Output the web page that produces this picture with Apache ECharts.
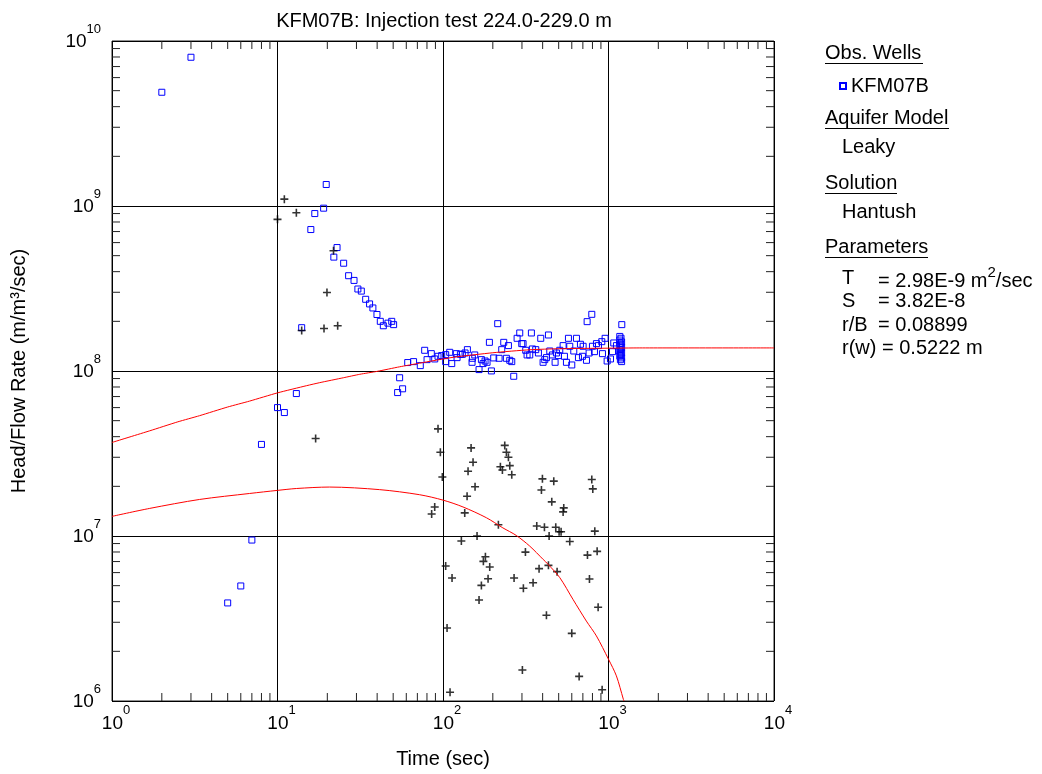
<!DOCTYPE html>
<html>
<head>
<meta charset="utf-8">
<title>KFM07B: Injection test 224.0-229.0 m</title>
<script src="https://cdn.jsdelivr.net/npm/echarts@6/dist/echarts.min.js"></script>
<style>
  html, body { margin: 0; padding: 0; background: #fff; }
  #chart { width: 1042px; height: 774px; }
</style>
</head>
<body>
<div id="chart"></div>
<script>
// Observed head/flow rate, [time (sec), head/flow rate (m/m³/sec)]
const obsPoints = [
  [2, 4.89e9], [3, 7.97e9], [5, 3.93e6], [6, 4.98e6], [7, 9.45e6], [8, 3.59e7],
  [10, 6.0e7], [11, 5.6e7], [13, 7.3e7], [14, 1.83e8], [15.9, 7.2e8], [16.8, 9.0e8],
  [19, 9.7e8], [19.7, 1.35e9], [21.9, 4.9e8], [22.9, 5.6e8], [25.1, 4.5e8], [26.9, 3.78e8],
  [29, 3.54e8], [30.6, 3.14e8], [32.1, 3.05e8], [34.1, 2.72e8], [36, 2.55e8], [37.7, 2.41e8],
  [39.9, 2.2e8], [41.8, 2.0e8], [43.6, 1.88e8], [46.5, 1.95e8], [49, 2.0e8], [50.3, 1.91e8],
  [53.2, 7.4e7], [54.7, 9.1e7], [57, 7.8e7], [61.2, 1.125e8], [66.4, 1.14e8],
  [72.9, 1.078e8], [77.5, 1.335e8], [80.1, 1.172e8], [85.0, 1.274e8], [89.1, 1.183e8],
  [93.3, 1.228e8], [98.2, 1.24e8], [103.8, 1.257e8], [103.8, 1.14e8], [109.8, 1.298e8],
  [112.9, 1.109e8], [120.4, 1.274e8], [121.6, 1.205e8], [127.4, 1.262e8], [130.9, 1.262e8],
  [135.9, 1.286e8], [140.4, 1.347e8], [149.8, 1.129e8], [150.5, 1.194e8], [155.5, 1.251e8],
  [165.1, 1.02e8], [170.6, 1.172e8], [174.6, 1.109e8], [179.5, 1.15e8], [184.6, 1.129e8],
  [190.7, 1.492e8], [196.1, 1.001e8], [202.5, 1.2e8], [214.1, 1.936e8], [218.2, 1.194e8],
  [226.4, 1.347e8], [232.8, 1.492e8], [241.6, 1.194e8], [248.5, 1.425e8], [253.2, 1.161e8],
  [260.3, 1.14e8], [267.6, 9.29e7], [280.4, 1.578e8], [290.9, 1.7e8], [299.1, 1.465e8],
  [304.7, 1.465e8], [316.2, 1.335e8], [322.1, 1.251e8], [334.3, 1.251e8], [342.1, 1.7e8],
  [346.9, 1.36e8], [363.4, 1.347e8], [377.2, 1.286e8], [389.6, 1.578e8], [402.5, 1.129e8],
  [412.0, 1.172e8], [421.7, 1.205e8], [433.6, 1.653e8], [441.7, 1.322e8], [458.4, 1.251e8],
  [475.7, 1.129e8], [484.6, 1.286e8], [498.3, 1.24e8], [507.6, 1.335e8], [531.8, 1.425e8],
  [541.8, 1.228e8], [557.0, 1.129e8], [572.8, 1.578e8], [583.4, 1.412e8], [599.9, 1.088e8],
  [616.9, 1.322e8], [640.3, 1.578e8], [658.3, 1.205e8], [676.9, 1.452e8], [696.0, 1.228e8],
  [702.5, 1.412e8], [735.9, 1.161e8], [742.8, 1.991e8], [763.7, 1.286e8], [792.6, 2.205e8],
  [799.9, 1.412e8], [822.5, 1.31e8], [845.7, 1.465e8], [869.6, 1.425e8], [910.9, 1.506e8],
  [919.4, 1.274e8], [954.1, 1.578e8], [981.1, 1.15e8], [1028, 1.183e8], [1057, 1.31e8],
  [1076, 1.479e8], [1117, 1.425e8],
  [1170, 1.62e8], [1190, 1.58e8], [1170, 1.54e8], [1200, 1.5e8], [1180, 1.46e8],
  [1170, 1.42e8], [1200, 1.39e8], [1180, 1.35e8], [1170, 1.32e8], [1200, 1.29e8],
  [1180, 1.26e8], [1170, 1.23e8], [1200, 1.2e8], [1180, 1.17e8], [1200, 1.14e8], [1203, 1.91e8]
];

// Derivative of the observed data, [time (sec), value]
const derivPoints = [
  [10, 8.3e8], [11, 1.1e9], [13, 9.1e8], [14, 1.76e8], [17, 3.9e7], [19.1, 1.81e8],
  [19.9, 2.99e8], [21.8, 5.35e8], [23.1, 1.88e8],
  [85.4, 1.36e7], [89.1, 1.5e7], [93.3, 4.46e7], [96.4, 3.22e7], [99.1, 2.28e7],
  [103.8, 6.58e6], [105.8, 2.77e6], [110.3, 1.13e6], [113.4, 5.56e6], [129.1, 9.32e6],
  [135.3, 1.38e7], [139.8, 1.74e7], [141.7, 2.47e7], [147.8, 3.42e7], [151.9, 2.8e7],
  [156.2, 1.99e7], [160.6, 1.0e7], [165.1, 4.09e6], [170.6, 5.02e6], [175.4, 7.02e6],
  [180.4, 7.49e6], [187.2, 5.51e6], [191.6, 6.49e6], [216.1, 1.17e7], [222.2, 2.63e7],
  [228.5, 2.51e7], [236.1, 3.54e7], [241.6, 3.22e7], [248.5, 3.0e7], [253.2, 2.67e7],
  [260.3, 2.35e7], [268.8, 5.56e6], [301.8, 1.54e6], [306, 4.82e6], [314.8, 7.99e6],
  [350.2, 5.21e6], [368.6, 1.15e7], [380.6, 6.34e6], [393.3, 1.9e7], [398.8, 2.22e7],
  [410.1, 1.13e7], [421.7, 3.31e6], [433.6, 6.64e6], [437.7, 1.0e7], [454.2, 1.61e7],
  [467, 2.15e7], [480.1, 1.13e7], [489.1, 6.08e6], [502.9, 1.06e7], [517, 1.06e7],
  [531.8, 1.4e7], [536.6, 1.48e7], [583.4, 9.27e6], [599.9, 2.57e6], [664.6, 1.41e6],
  [746.3, 7.66e6], [767.3, 5.49e6], [792.6, 2.2e7], [803.7, 1.93e7], [826.4, 1.07e7],
  [853.7, 8.07e6], [865.6, 3.7e6], [915.2, 1.17e6]
];

// Fitted Hantush type curve
const fitCurve = [
  [1, 3.69e7], [1.69, 4.34e7], [2.5, 4.92e7], [3.38, 5.36e7], [5, 6.05e7], [6.78, 6.57e7],
  [10, 7.37e7], [15, 8.15e7], [18, 8.5e7], [25, 9.1e7], [31.4, 9.55e7], [40, 9.95e7],
  [54.6, 1.06e8], [72, 1.115e8], [115, 1.21e8], [200, 1.29e8], [334, 1.345e8],
  [508, 1.365e8], [1000, 1.375e8], [1545, 1.38e8], [10000, 1.38e8]
];

// Derivative of the fitted curve
const fitDeriv = [
  [1, 1.315e7], [1.69, 1.47e7], [3.38, 1.665e7], [6.78, 1.81e7], [10, 1.89e7], [13, 1.94e7],
  [20.6, 1.98e7], [41.4, 1.91e7], [72, 1.78e7], [100, 1.65e7], [132, 1.5e7], [183, 1.29e7],
  [230, 1.12e7], [277, 1.008e7], [334, 8.69e6], [403, 7.21e6], [432, 6.73e6], [508, 5.59e6],
  [610, 4.13e6], [735, 3.05e6], [845, 2.48e6], [1000, 1.79e6], [1116, 1.42e6], [1229, 1.026e6],
  [1240, 1.0e6]
];

// Axis ranges
const xRange = [1, 10000];
const yRange = [1e6, 1e10];

// Right-hand info panel
const panelSections = [
  { head: 'Aquifer Model', value: 'Leaky', y: 118 },
  { head: 'Solution', value: 'Hantush', y: 183 }
];
const paramRows = [
  { name: 'T', value: '= 2.98E-9 m', sup: '2', tail: '/sec', y: 278 },
  { name: 'S', value: '= 3.82E-8', y: 301 },
  { name: 'r/B', value: '= 0.08899', y: 325 },
  { name: 'r(w) = 0.5222 m', value: null, y: 348 }
];

const FONT = '"Liberation Sans", Arial, Helvetica, sans-serif';

// minor tick positions 2..9 within each decade
const minorX = [];
for (let d = xRange[0]; d < xRange[1]; d *= 10) for (let k = 2; k <= 9; k++) minorX.push([k * d, yRange[0]]);
const minorY = [];
for (let d = yRange[0]; d < yRange[1]; d *= 10) for (let k = 2; k <= 9; k++) minorY.push([xRange[0], k * d]);

const tickLen = 8;
const tickStyle = { stroke: '#222', lineWidth: 1 };

const powLabel = v => '{b|10}{s|' + Math.round(Math.log10(v)) + '}';
const powRich = {
  b: { fontSize: 19, fontFamily: FONT, color: '#000', lineHeight: 29, verticalAlign: 'bottom' },
  s: { fontSize: 13, fontFamily: FONT, color: '#000', lineHeight: 29, verticalAlign: 'top' }
};

// black plus marker for the derivative points
const plusPath = 'path://M4,0h2v4h4v2h-4v4h-2v-4h-4v-2h4z';

const graphics = [];
function addText(text, x, y, extra) {
  graphics.push(Object.assign({
    type: 'text', x: x, y: y,
    style: { text: text, font: '20px ' + FONT, fill: '#000', verticalAlign: 'middle', align: 'left' }
  }, extra || {}));
}
function addHeading(text, x, y, w) {
  addText(text, x, y);
  graphics.push({ type: 'line', shape: { x1: x, y1: y + 10.5, x2: x + w, y2: y + 10.5 }, style: { stroke: '#000', lineWidth: 1 } });
}
addHeading('Obs. Wells', 825, 53, 98);
addHeading('Aquifer Model', 825, panelSections[0].y, 124);
addText(panelSections[0].value, 842, 147);
addHeading('Solution', 825, panelSections[1].y, 72);
addText(panelSections[1].value, 842, 212);
addHeading('Parameters', 825, 247, 103);
paramRows.forEach(r => {
  addText(r.name, 842, r.y);
  if (r.value) {
    if (r.sup) {
      graphics.push({
        type: 'text', x: 878, y: r.y,
        style: {
          text: '{a|' + r.value + '}{s|' + r.sup + '}{a|' + r.tail + '}',
          verticalAlign: 'middle', align: 'left',
          rich: {
            a: { fontSize: 20, fontFamily: FONT, color: '#000', lineHeight: 26, verticalAlign: 'bottom' },
            s: { fontSize: 15, fontFamily: FONT, color: '#000', lineHeight: 26, verticalAlign: 'top' }
          }
        }
      });
    } else {
      addText(r.value, 878, r.y);
    }
  }
});

const chart = echarts.init(document.getElementById('chart'), null, { renderer: 'canvas' });
chart.setOption({
  animation: false,
  backgroundColor: '#fff',
  title: {
    text: 'KFM07B: Injection test 224.0-229.0 m',
    left: 439, top: 6, textAlign: 'center',
    textStyle: { fontSize: 20, fontWeight: 'normal', fontFamily: FONT, color: '#000' }
  },
  legend: {
    left: 834, top: 71, orient: 'vertical',
    itemWidth: 6, itemHeight: 6, itemGap: 4,
    data: [{ name: 'KFM07B', icon: 'rect' }],
    textStyle: { fontSize: 20, fontFamily: FONT, color: '#000' }
  },
  grid: { left: 112, top: 41, width: 662, height: 661, show: true, borderColor: '#222', borderWidth: 1, backgroundColor: '#fff' },
  xAxis: {
    type: 'log', logBase: 10, min: xRange[0], max: xRange[1],
    name: 'Time (sec)', nameLocation: 'middle', nameGap: 48,
    nameTextStyle: { fontSize: 20, fontFamily: FONT, color: '#000' },
    axisLine: { show: false }, axisTick: { show: false },
    axisLabel: { formatter: powLabel, rich: powRich, margin: 3, padding: [0, 0, 0, 8] },
    splitLine: { show: true, lineStyle: { color: '#000', width: 1 } }
  },
  yAxis: {
    type: 'log', logBase: 10, min: yRange[0], max: yRange[1],
    name: 'Head/Flow Rate (m/m³/sec)', nameLocation: 'middle', nameGap: 83, nameRotate: 90,
    nameTextStyle: { fontSize: 20, fontFamily: FONT, color: '#000' },
    axisLine: { show: false }, axisTick: { show: false },
    axisLabel: { formatter: powLabel, rich: powRich, margin: 11, padding: [0, 0, 8, 0] },
    splitLine: { show: true, lineStyle: { color: '#000', width: 1 } }
  },
  graphic: graphics,
  series: [
    {
      type: 'custom', name: 'xMinorTicks', silent: true, z: 1,
      data: minorX,
      renderItem: (params, api) => {
        const v = api.value(0);
        const b = api.coord([v, yRange[0]]);
        const t = api.coord([v, yRange[1]]);
        return { type: 'group', children: [
          { type: 'line', shape: { x1: b[0], y1: b[1], x2: b[0], y2: b[1] - tickLen }, style: tickStyle },
          { type: 'line', shape: { x1: t[0], y1: t[1], x2: t[0], y2: t[1] + tickLen }, style: tickStyle }
        ] };
      }
    },
    {
      type: 'custom', name: 'yMinorTicks', silent: true, z: 1,
      data: minorY,
      renderItem: (params, api) => {
        const v = api.value(1);
        const l = api.coord([xRange[0], v]);
        const r = api.coord([xRange[1], v]);
        return { type: 'group', children: [
          { type: 'line', shape: { x1: l[0], y1: l[1], x2: l[0] + tickLen, y2: l[1] }, style: tickStyle },
          { type: 'line', shape: { x1: r[0], y1: r[1], x2: r[0] - tickLen, y2: r[1] }, style: tickStyle }
        ] };
      }
    },
    {
      type: 'scatter', name: 'KFM07B', z: 3,
      data: obsPoints, symbol: 'rect', symbolSize: 6,
      itemStyle: { color: 'rgba(255,255,255,0)', borderColor: '#0000ff', borderWidth: 1, opacity: 1 }
    },
    {
      type: 'scatter', name: 'derivative', z: 3,
      data: derivPoints, symbol: plusPath, symbolSize: 8,
      itemStyle: { color: '#000' }
    },
    {
      type: 'line', name: 'fit', z: 4, data: fitCurve, showSymbol: false, smooth: 0.2,
      lineStyle: { color: '#ff0000', width: 1 }, clip: true
    },
    {
      type: 'line', name: 'fitDerivative', z: 4, data: fitDeriv, showSymbol: false, smooth: 0.3,
      lineStyle: { color: '#ff0000', width: 1 }, clip: true
    }
  ]
});
</script>
</body>
</html>
